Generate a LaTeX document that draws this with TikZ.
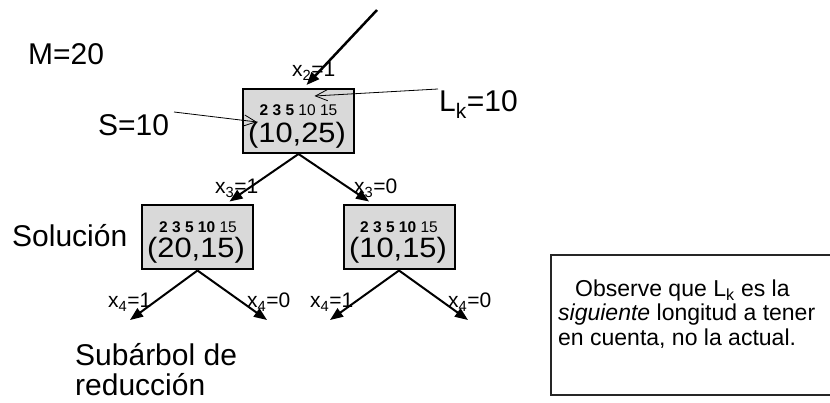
\documentclass[tikz,border=0pt]{standalone}
\usepackage{fontspec}
\setmainfont{Liberation Sans}
\usetikzlibrary{arrows.meta}
\definecolor{boxgray}{HTML}{D9D9D9}
\begin{document}
\begin{tikzpicture}[x=1pt,y=-1pt,
  lbl/.style={inner sep=0pt, anchor=base west, font=\fontsize{30}{32}\selectfont},
  xl/.style={inner sep=0pt, anchor=base west, font=\fontsize{21}{23}\selectfont},
  sbox/.style={draw=black, line width=2pt, fill=boxgray, minimum width=111pt, minimum height=64pt, inner sep=0pt},
  small/.style={inner sep=0pt, anchor=base, font=\fontsize{15.5}{17}\selectfont},
  big/.style={inner sep=0pt, anchor=base, font=\fontsize{28}{30}\selectfont, xscale=1.1},
  arr/.style={line width=2pt, -{Triangle[length=13pt,width=10pt]}},
  thinarr/.style={line width=0.8pt, -{Straight Barb[length=12pt,width=11pt]}},
  note/.style={inner sep=0pt, anchor=base west, font=\fontsize{23}{25}\selectfont}
]
\useasboundingbox (0,0) rectangle (830,403);

% labels
\node[lbl] (m) at (28,65) {M=20};
\node[lbl] (s) at (98,136) {S=10};
\node[lbl] (lk) at (439,112) {L\textsubscript{k}=10};
\node[lbl] (sol) at (12,247) {Solución};
\node[lbl] (sub1) at (75,366) {Subárbol de};
\node[lbl] (sub2) at (75,395) {reducción};

\node[xl] (x2) at (292,77) {x\textsubscript{2}=1};
\node[xl] (x3a) at (215,194) {x\textsubscript{3}=1};
\node[xl] (x3b) at (354,194) {x\textsubscript{3}=0};
\node[xl] (x4a) at (108,308) {x\textsubscript{4}=1};
\node[xl] (x4b) at (247,308) {x\textsubscript{4}=0};
\node[xl] (x4c) at (310,308) {x\textsubscript{4}=1};
\node[xl] (x4d) at (448,308) {x\textsubscript{4}=0};

% boxes
\node[sbox] (b1) at (298.5,121) {};
\node[small] (t1) at (298.5,116) {\textbf{2 3 5} 10 15};
\node[big] (p1) at (297,143) {(10,25)};

\node[sbox] (b2) at (197.5,237.5) {};
\node[small] (t2) at (198,232.5) {\textbf{2 3 5 10} 15};
\node[big] (p2) at (196,258) {(20,15)};

\node[sbox] (b3) at (399,237.5) {};
\node[small] (t3) at (399,232.5) {\textbf{2 3 5 10} 15};
\node[big] (p3) at (398,258) {(10,15)};

% arrows
\coordinate (top) at (377,10);
\draw[arr, line width=2.5pt] (top) -- ([xshift=8pt,yshift=3pt]b1.north);
\draw[arr] (b1.south) -- ([xshift=32pt,yshift=3pt]b2.north);
\draw[arr] (b1.south) -- ([xshift=-30pt,yshift=3pt]b3.north);
\coordinate (l1) at (130,320);
\coordinate (l2) at (267,320);
\coordinate (r1) at (330,320);
\coordinate (r2) at (468,320);
\draw[arr] (b2.south) -- (l1);
\draw[arr] (b2.south) -- (l2);
\draw[arr] (b3.south) -- (r1);
\draw[arr] (b3.south) -- (r2);

% thin pointers
\coordinate (sfrom) at (174,112);
\draw[thinarr] (sfrom) -- ([xshift=15pt,yshift=-1pt]b1.west);
\coordinate (lkfrom) at (438,89);
\draw[thinarr] (lkfrom) -- ([xshift=16pt,yshift=-8pt]b1.north);

% note
\draw[line width=1.2pt, draw=black!85] (832,255) -- (551,255) -- (551,395) -- (832,395);
\node[note] (n1) at (575,297) {Observe que L\textsubscript{k} es la};
\node[note] (n2) at (558,321) {\textit{siguiente} longitud a tener};
\node[note] (n3) at (558,345) {en cuenta, no la actual.};
\end{tikzpicture}
\end{document}
